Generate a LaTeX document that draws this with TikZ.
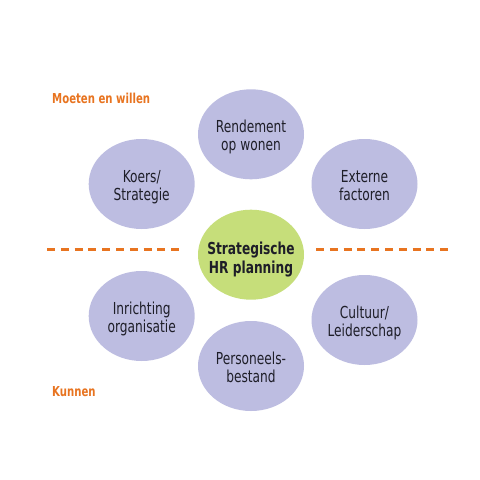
\documentclass[tikz,border=0pt]{standalone}
\usepackage{fontspec}
\setmainfont{DejaVu Sans}[FakeStretch=0.74]
\usetikzlibrary{shapes.geometric}
\definecolor{lav}{RGB}{189,189,225}
\definecolor{limeg}{RGB}{198,222,122}
\definecolor{orng}{RGB}{232,116,32}
\definecolor{txt}{RGB}{30,30,40}
\begin{document}
\begin{tikzpicture}[x=1pt,y=-1pt,
  bubble/.style={ellipse, fill=lav, minimum width=106pt, minimum height=90pt,
    inner xsep=-40pt, inner ysep=-40pt, align=center, text=txt,
    font=\fontsize{16.5}{18.5}\selectfont, text height=36pt, text depth=3pt},
  hubbox/.style={bubble, fill=limeg, font=\fontsize{16.5}{18.5}\selectfont\bfseries,
    text height=40pt, text depth=3pt},
  sidelabel/.style={anchor=base west, text=orng, inner sep=0pt,
    font=\fontsize{13.7}{16}\selectfont\bfseries},
  divider/.style={draw=orng, line width=3pt, dash pattern=on 8pt off 5.8pt}]
\path[fill=white] (0,0) rectangle (480,480);
\useasboundingbox (0,0) rectangle (480,480);

\node[bubble] (rend) at (251,134.3) {Rendement\\op wonen};
\node[bubble] (koers) at (141.7,184) {Koers/\\Strategie};
\node[bubble] (ext) at (364.5,184) {Externe\\factoren};
\node[hubbox] (hub) at (251,254.7) {Strategische\\HR planning};
\node[bubble] (inr) at (141.7,316) {Inrichting\\organisatie};
\node[bubble] (cult) at (364.5,320) {Cultuur/\\Leiderschap};
\node[bubble] (pers) at (251,366) {Personeels-\\bestand};

\node[sidelabel] (moeten) at (52,103) {Moeten en willen};
\node[sidelabel] (kunnen) at (52,396) {Kunnen};

\coordinate (l1) at (47,249.5);
\coordinate (l2) at (182,249.5);
\coordinate (r1) at (316,249.5);
\coordinate (r2) at (451,249.5);
\draw[divider] (l1) -- (l2);
\draw[divider] (r1) -- (r2);
\end{tikzpicture}
\end{document}
